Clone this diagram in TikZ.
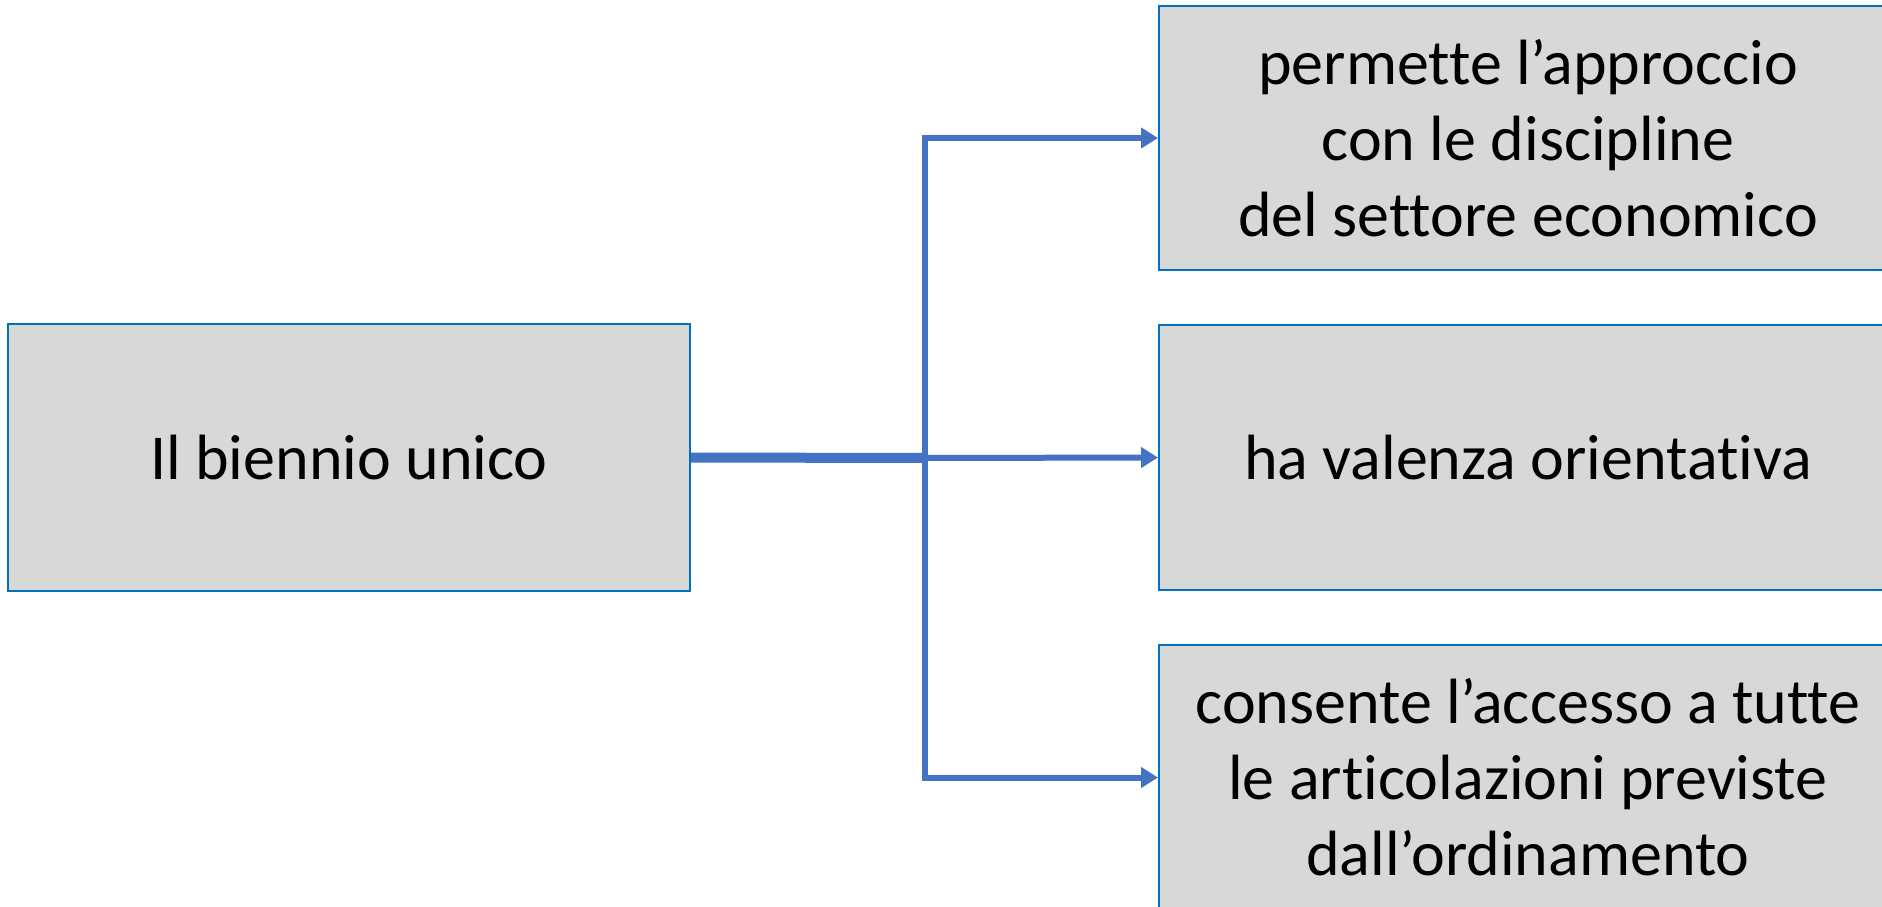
\documentclass[tikz,border=0pt]{standalone}
\usepackage{fontspec}
\setmainfont{Carlito}[Ligatures=NoCommon]
\usetikzlibrary{arrows.meta}
\definecolor{boxfill}{HTML}{D8D8D8}
\definecolor{boxline}{HTML}{0070C0}
\definecolor{conncol}{HTML}{4472C4}
\tikzset{
  box/.style={draw=boxline, line width=2pt, fill=boxfill, inner sep=0pt,
    align=center, font=\fontsize{64}{76}\selectfont, text=black},
  conn/.style={draw=conncol, line width=6pt,
    -{Triangle[length=17pt,width=20pt]}},
  trunk/.style={draw=conncol, line width=10pt}
}
\begin{document}
\begin{tikzpicture}[x=1pt,y=-1pt]
\useasboundingbox (0,0) rectangle (1882,907);
\clip (0,0) rectangle (1882,907);
\node[box, minimum width=682pt, minimum height=267pt] (L) at (349,457.5) {Il biennio unico};
\node[box, minimum width=738pt, minimum height=264pt] (T) at (1528,138) {permette l’approccio\\con le discipline\\del settore economico};
\node[box, minimum width=738pt, minimum height=265pt] (M) at (1528,457.5) {ha valenza orientativa};
\node[box, minimum width=738pt, minimum height=265pt] (B) at (1528,777.5) {consente l’accesso a tutte\\le articolazioni previste\\dall’ordinamento};
\coordinate (J) at (925,458);
\draw[trunk] (L.east) -- (J);
\draw[conn] (J) |- (T.west);
\draw[conn] (J) |- (B.west);
\draw[conn] (J) -- (M.west);
\end{tikzpicture}
\end{document}
